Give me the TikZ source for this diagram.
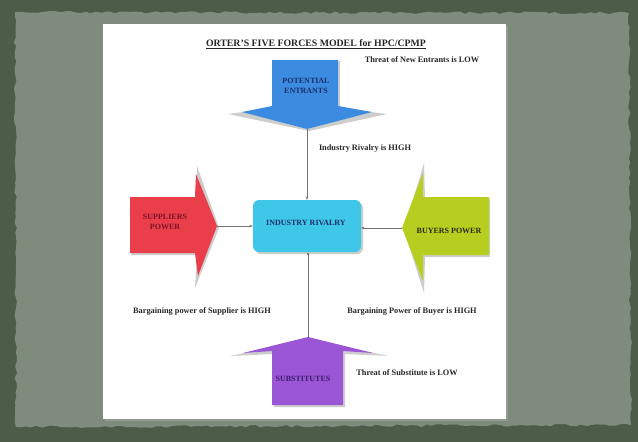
\documentclass[tikz,border=0pt]{standalone}
\usepackage{fontspec}
\setmainfont{Liberation Serif}
\usetikzlibrary{decorations.pathmorphing,arrows.meta,calc}
\definecolor{bgdark}{HTML}{4D5B49}
\definecolor{paper}{HTML}{7F8B7D}
\definecolor{shadowgray}{HTML}{CDCDCD}
\definecolor{fblue}{HTML}{3B8BE0}
\definecolor{fred}{HTML}{EB3E4B}
\definecolor{fcyan}{HTML}{3FC7E9}
\definecolor{fgreen}{HTML}{B7CE20}
\definecolor{fpurple}{HTML}{9B56D5}
\definecolor{tnavy}{HTML}{1E2E6A}
\definecolor{tmaroon}{HTML}{7A1424}
\definecolor{tolive}{HTML}{2A2A18}
\definecolor{tpurple}{HTML}{3A1C6E}
\tikzset{
  lbl/.style={font=\fontsize{8.3}{9}\selectfont\bfseries, text=black!85, inner sep=0pt},
  intxt/.style={font=\fontsize{8}{9.5}\selectfont\bfseries, align=center, inner sep=0pt},
  shad/.style={fill=shadowgray},
  conn/.style={draw=black!55, line width=0.6pt, -{Stealth[length=3.2pt,width=2.6pt]}}
}
\begin{document}
\begin{tikzpicture}[x=1pt,y=-1pt]
\useasboundingbox (0,0) rectangle (638,442);
% background and paper
\fill[bgdark] (0,0) rectangle (638,442);
\pgfmathsetseed{11}
\fill[paper, decorate, decoration={random steps, segment length=5pt, amplitude=1.3pt}]
  (15,12) -- (629,13) -- (631,425) -- (16,427) -- cycle;
% white page
\fill[black!30, opacity=0.4] (104.5,25.5) rectangle (507.5,420.5);
\fill[white] (103,24) rectangle (506,419);

% title and labels
\node[font=\fontsize{9.8}{11}\selectfont\bfseries, inner sep=0pt, text=black!85] (title) at (316,44) {\underline{ORTER'S FIVE FORCES MODEL for HPC/CPMP}};
\node[lbl] (lnew) at (422,60) {Threat of New Entrants is LOW};
\node[lbl] (lriv) at (365,149) {Industry Rivalry is HIGH};
\node[lbl] (lsup) at (202,311) {Bargaining power of Supplier is HIGH};
\node[lbl] (lbuy) at (412,311) {Bargaining Power of Buyer is HIGH};
\node[lbl] (lsub) at (407,373) {Threat of Substitute is LOW};

% potential entrants (blue, down)
\fill[shad] (274,61) -- (340,61) -- (340,108) -- (387,114) -- (309,131) -- (228,114) -- (274,108) -- cycle;
\fill[fblue] (272,60) -- (338,60) -- (338,106) -- (372,112) -- (307,129) -- (242,112) -- (272,106) -- cycle;
\coordinate (btip) at (307,129);
\node[intxt, text=tnavy] (pot) at (306,86) {POTENTIAL\\ENTRANTS};

% suppliers (red, right)
\fill[shad] (131,199) -- (197,199) -- (197,166) -- (219,228) -- (195,288) -- (197,255) -- (131,255) -- cycle;
\fill[fred] (130,197) -- (195,197) -- (196,174) -- (217,226) -- (198,276) -- (195,253) -- (130,253) -- cycle;
\coordinate (rtip) at (217,226);
\node[intxt, text=tmaroon] (sup) at (165,222) {SUPPLIERS\\POWER};

% buyers (green, left)
\fill[shad] (490,199) -- (425,199) -- (424,163) -- (404,230) -- (424,293) -- (425,257) -- (490,257) -- cycle;
\fill[fgreen] (489,197) -- (423,197) -- (423,173) -- (402,228) -- (423,281) -- (423,255) -- (489,255) -- cycle;
\coordinate (gtip) at (402,228);
\node[intxt, text=tolive] (buy) at (449,231) {BUYERS POWER};

% substitutes (purple, up)
\fill[shad] (274,407) -- (345,407) -- (345,354) -- (388,356) -- (310,339) -- (230,356) -- (274,354) -- cycle;
\fill[fpurple] (272,405) -- (343,405) -- (343,351) -- (373,353) -- (308,337) -- (243,353) -- (272,351) -- cycle;
\coordinate (ptip) at (308,337);
\node[intxt, text=tpurple] (sub) at (303,379) {SUBSTITUTES};

% industry rivalry
\fill[shadowgray, rounded corners=6pt] (255,202) rectangle (363,254);
\node[fill=fcyan, rounded corners=6pt, minimum width=108pt, minimum height=52pt, inner sep=0pt] (riv) at (307,226) {};
\node[intxt, text=tnavy] (rivt) at (306,223) {INDUSTRY RIVALRY};

% connectors
\draw[conn] (btip) -- (riv.north);
\draw[conn] (rtip) -- (riv.west |- rtip);
\draw[conn] (gtip) -- (riv.east |- gtip);
\draw[conn] (ptip) -- (ptip |- riv.south);
\end{tikzpicture}
\end{document}
